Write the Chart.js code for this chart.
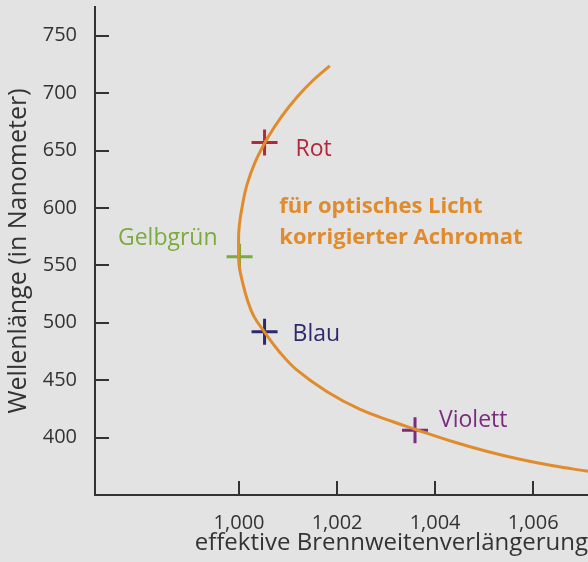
<!DOCTYPE html>
<html>
<head>
<meta charset="utf-8">
<script src="https://cdn.jsdelivr.net/npm/chart.js@4"></script>
<style>
  html, body { margin: 0; padding: 0; background: #e3e3e3; }
  #wrap { width: 588px; height: 562px; }
</style>
</head>
<body>
<div id="wrap"><canvas id="achromat" width="588" height="562"></canvas></div>
<script>
/* ---- data ---- */
const curveX = [1.00185, 1.00151, 1.00118, 1.00087, 1.00059, 1.00033, 1.00016, 1.00007, 1.00000, 0.99999, 1.00000, 1.00007, 1.00017, 1.00030, 1.00052, 1.00083, 1.00117, 1.00178, 1.00246, 1.00314, 1.00359, 1.00437, 1.00505, 1.00573, 1.00641, 1.00712];
const curveY = [723.8, 711.2, 696.4, 679.8, 661.5, 640.1, 620.1, 602.6, 582.6, 565.1, 550.3, 535.5, 519.8, 505.8, 491.9, 474.4, 459.2, 440.4, 424.7, 413.8, 407.3, 396.4, 388.1, 381.1, 375.4, 370.6];

const markNames = ["Rot", "Gelbgrün", "Blau", "Violett"];
const markX = [1.00052, 1.00001, 1.00052, 1.00359];
const markY = [656.9, 557.5, 492.1, 406.4];
const markColors = ["#b3283c", "#7aab3c", "#2b2a6b", "#7a2d80"];

const xTicks = [1.000, 1.002, 1.004, 1.006];
const yTicks = [400, 450, 500, 550, 600, 650, 700, 750];

const annotation = ["für optisches Licht", "korrigierter Achromat"];

const ink = "#333333";
const orange = "#e08b2c";
const font = "'Open Sans', 'Noto Sans', sans-serif";

/* label placement relative to each cross (px, baseline) */
const labelOffsets = [
  { dx: 31, dy: 13, align: "left" },
  { dx: -22, dy: -12, align: "right" },
  { dx: 28, dy: 9, align: "left" },
  { dx: 24, dy: -3, align: "left" }
];

/* ---- tick marks drawn inside the plot, plus labels ---- */
const decorations = {
  id: "decorations",
  afterDatasetsDraw(chart) {
    const { ctx, scales: { x, y } } = chart;
    ctx.save();
    ctx.strokeStyle = ink;
    ctx.lineWidth = 2;
    yTicks.forEach(v => {
      const py = Math.round(y.getPixelForValue(v));
      ctx.beginPath();
      ctx.moveTo(x.left, py);
      ctx.lineTo(x.left + 14, py);
      ctx.stroke();
    });
    xTicks.forEach(v => {
      const px = Math.round(x.getPixelForValue(v));
      ctx.beginPath();
      ctx.moveTo(px, y.bottom);
      ctx.lineTo(px, y.bottom - 14);
      ctx.stroke();
    });

    ctx.font = "23px " + font;
    ctx.textBaseline = "alphabetic";
    markNames.forEach((name, i) => {
      const o = labelOffsets[i];
      ctx.fillStyle = markColors[i];
      ctx.textAlign = o.align;
      ctx.fillText(name, x.getPixelForValue(markX[i]) + o.dx, y.getPixelForValue(markY[i]) + o.dy);
    });

    ctx.font = "bold 22px " + font;
    ctx.fillStyle = orange;
    ctx.textAlign = "left";
    annotation.forEach((line, i) => {
      ctx.fillText(line, x.getPixelForValue(1.00082), y.getPixelForValue(596) + i * 31);
    });
    ctx.restore();
  }
};

new Chart(document.getElementById("achromat"), {
  type: "scatter",
  data: {
    datasets: [
      {
        data: curveX.map((v, i) => ({ x: v, y: curveY[i] })),
        showLine: true,
        borderColor: orange,
        borderWidth: 3,
        tension: 0.4,
        pointRadius: 0,
        fill: false
      },
      {
        data: markX.map((v, i) => ({ x: v, y: markY[i] })),
        pointStyle: "cross",
        pointRadius: 13,
        borderWidth: 3,
        borderColor: markColors,
        backgroundColor: markColors
      }
    ]
  },
  options: {
    responsive: false,
    animation: false,
    layout: { autoPadding: false, padding: { top: 7, right: 0, left: 0, bottom: 0 } },
    plugins: {
      legend: { display: false },
      tooltip: { enabled: false }
    },
    scales: {
      x: {
        type: "linear",
        min: 0.99706,
        max: 1.00712,
        afterBuildTicks: s => { s.ticks = xTicks.map(v => ({ value: v })); },
        afterFit: s => { s.height = 67; s.paddingLeft = 0; s.paddingRight = 0; },
        grid: { display: false },
        border: { display: true, color: ink, width: 2 },
        ticks: {
          color: ink,
          padding: 8,
          font: { family: font, size: 20 },
          callback: v => v.toFixed(3).replace(".", ",")
        },
        title: {
          display: true,
          text: "effektive Brennweitenverlängerung",
          align: "end",
          color: ink,
          padding: { top: 0 },
          font: { family: font, size: 24 }
        }
      },
      y: {
        type: "linear",
        min: 350,
        max: 775,
        afterBuildTicks: s => { s.ticks = yTicks.map(v => ({ value: v })); },
        afterFit: s => { s.width = 95; s.paddingTop = 0; s.paddingBottom = 0; },
        grid: { display: false },
        border: { display: true, color: ink, width: 2 },
        ticks: {
          color: ink,
          padding: 10,
          font: { family: font, size: 20 }
        },
        title: {
          display: true,
          text: "Wellenlänge (in Nanometer)",
          color: ink,
          padding: { bottom: 0, top: 4 },
          font: { family: font, size: 25 }
        }
      }
    }
  },
  plugins: [decorations]
});
</script>
</body>
</html>
